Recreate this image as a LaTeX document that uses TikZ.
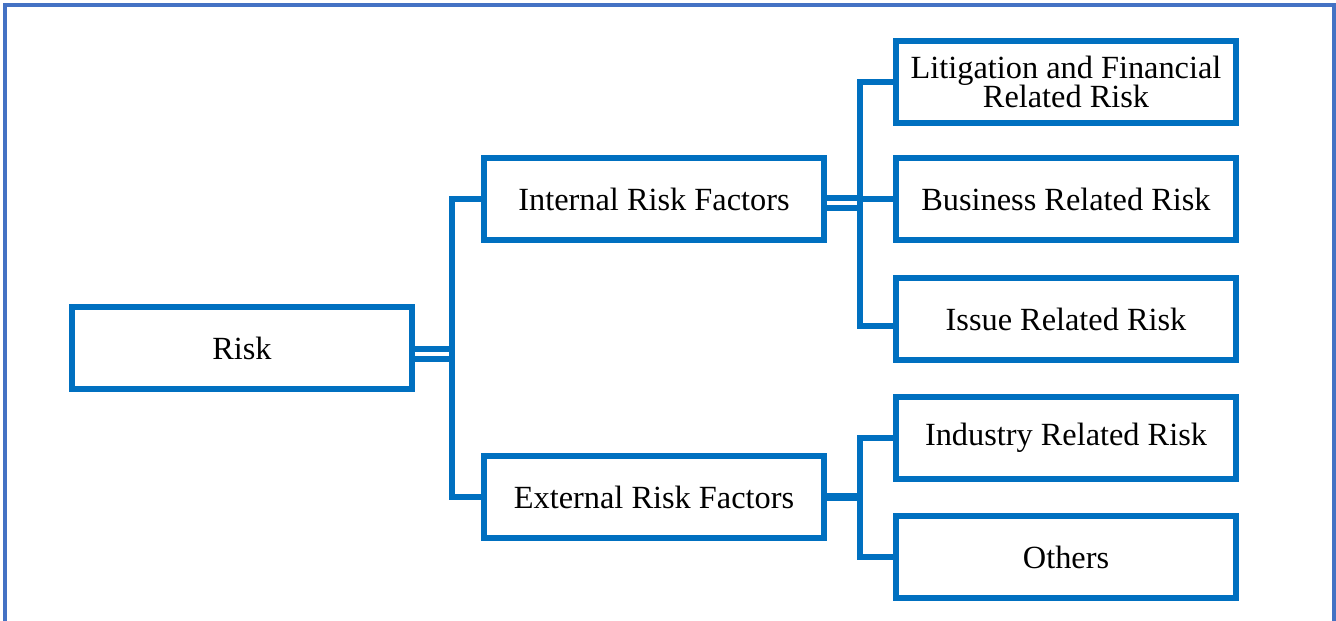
\documentclass[tikz,border=0pt]{standalone}
\usepackage{fontspec}
\setmainfont{Liberation Serif}
\definecolor{linkblue}{RGB}{0,112,192}
\definecolor{frameblue}{RGB}{68,114,196}

\begin{document}
\begin{tikzpicture}[x=0.1mm,y=-0.1mm,
  box/.style={draw=linkblue, line width=1.6pt, minimum width=34mm, minimum height=8.2mm,
    inner sep=1pt, align=center, font=\fontsize{9.2}{10}\selectfont},
  link/.style={linkblue, line width=1.6pt},
  dlink/.style={link, line width=1.5pt, double=white, double distance=1.4pt}]
  \useasboundingbox (0,0) rectangle (1336,621);
  \draw[frameblue, line width=0.9pt] (5,625) -- (5,5) -- (1334,5) -- (1334,625);

  \node[box] (risk) at (242,348) {Risk};
  \node[box] (internal) at (654,199) {Internal Risk Factors};
  \node[box] (external) at (654,497) {External Risk Factors};
  \node[box] (litig) at (1066,82) {Litigation and Financial\\[-1.8pt]Related Risk};
  \node[box] (business) at (1066,199) {Business Related Risk};
  \node[box] (issue) at (1066,319) {Issue Related Risk};
  \node[box] (industry) at (1066,438) {Industry Related Risk};
  \node[box] (others) at (1066,557) {Others};

  \coordinate (j1) at (452,354);
  \coordinate (j2) at (860,203);
  \coordinate (j3) at (860,497);

  \draw[dlink] (risk.east |- j1) -- (j1);
  \draw[dlink] (internal.east |- j2) -- (j2);
  \draw[link, line width=2.2pt] (external.east) -- (j3);

  \draw[link] (internal.west) -| (j1) |- (external.west);
  \draw[link] (litig.west) -| (j2) |- ([yshift=-0.7mm]issue.west);
  \draw[link] (business.west) -- (business.west -| j2);
  \draw[link] (industry.west) -| (j3) |- (others.west);
\end{tikzpicture}
\end{document}
